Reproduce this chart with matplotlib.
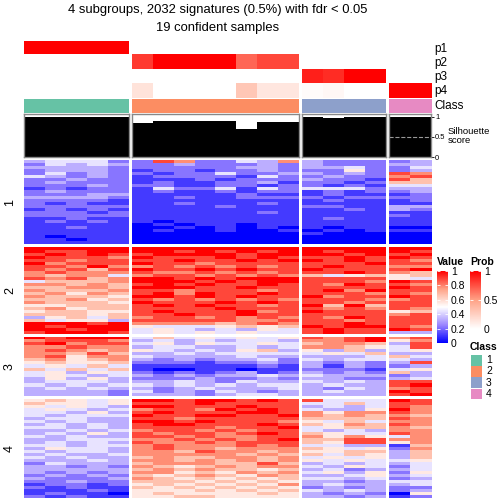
import matplotlib
matplotlib.use('Agg')
import matplotlib.pyplot as plt
import numpy as np
from matplotlib.colors import LinearSegmentedColormap, ListedColormap, Normalize
from matplotlib.cm import ScalarMappable

plt.rcParams['font.family'] = ['Liberation Sans', 'DejaVu Sans']

""" data """

title_lines = ['4 subgroups, 2032 signatures (0.5%) with fdr < 0.05',
               '19 confident samples']
annot_names = ['p1', 'p2', 'p3', 'p4', 'Class']
row_names = ['1', '2', '3', '4']
class_names = ['1', '2', '3', '4']
class_colors = ['#66C2A5', '#FC8D62', '#8DA0CB', '#E78AC3']
n_cols = [5, 8, 4, 2]

p1 = [1, 1, 1, 1, 1, 0, 0, 0, 0, 0, 0, 0, 0, 0, 0, 0, 0, 0, 0]
p2 = [0, 0, 0, 0, 0, 0.82, 1, 1, 1, 1, 0.68, 0.78, 0.78, 0, 0, 0, 0, 0, 0]
p3 = [0, 0, 0, 0, 0, 0, 0, 0, 0, 0, 0, 0, 0, 0.9, 0.86, 1, 1, 0, 0]
p4 = [0, 0, 0, 0, 0, 0.15, 0, 0, 0, 0, 0.3, 0.13, 0.13, 0.02, 0.04, 0, 0, 1, 1]
sil = [1, 1, 1, 1, 1, 0.84, 0.89, 0.89, 0.89, 0.89, 0.70, 0.87, 0.87,
       0.99, 0.97, 0.99, 0.99, 1, 1]
classes = [1] * 5 + [2] * 8 + [3] * 4 + [4] * 2

# heatmap rows, one digit per sample (value = digit / 9)
rows_1 = [
    "34442 28722437 3222 23", "24343 22322232 3222 33", "33332 22222332 3342 24",
    "23332 12212232 2252 23", "24232 21224223 3232 87", "43232 12222142 2322 78",
    "22322 11121222 3221 86", "23222 12112231 2212 66", "22232 22112212 2121 44",
    "12122 14224142 4442 33", "23222 12112122 1212 23", "22233 11111211 1211 12",
    "33332 11211222 2122 22", "22221 11111111 1211 12", "21211 11211121 1111 11",
    "22222 11112111 2211 33", "12121 11111111 1121 32", "22212 11111121 1111 11",
    "22222 11111111 1111 21", "11211 11111111 1211 11", "12121 10111111 1111 11",
    "11111 01011011 1111 11", "11211 00101010 1011 00", "11111 01001001 0101 11",
    "11111 00000000 1000 00", "10111 00000000 0000 00", "11011 00000000 0000 00",
    "11111 00000000 0000 00"]
rows_2 = [
    "99999 99999999 9999 99", "98899 99898989 9899 98", "89898 89999899 9989 89",
    "98887 98889898 8898 98", "88788 88988989 9898 87", "97888 98878888 8889 88",
    "88797 78787878 8988 77", "87868 98898988 9888 89", "78777 87787878 8898 76",
    "76774 78878787 6456 56", "87867 99898999 8888 54", "46667 99989899 8887 98",
    "77676 89898898 8798 87", "66776 99988988 8888 98", "76667 88788878 8979 88",
    "67576 89798898 8887 87", "76665 99898988 9788 98", "66756 87878787 8887 78",
    "76665 98889898 8878 88", "55666 89898878 9696 88", "67566 88889888 8787 87",
    "56655 89888978 9888 56", "66656 88988988 8888 78", "35646 78878787 8798 88",
    "64553 88888778 8878 88", "99989 77776787 8898 88", "98999 54445656 9899 87",
    "99899 45434354 8988 98", "89998 45454544 8988 33"]
rows_3 = [
    "98999 46454545 8789 78", "78887 34343443 7789 57", "89788 45354454 6776 38",
    "77877 34433434 7765 48", "78767 54343563 5363 45", "77686 33434444 4546 33",
    "78577 43333433 3334 64", "67567 32323342 4344 43", "56556 22212232 3232 38",
    "45464 11111121 3132 23", "64646 10011011 2221 45", "45354 21212312 3232 63",
    "45434 32323343 4333 23", "35353 22232232 3322 34", "34443 33432433 4343 88",
    "43434 43434344 3433 89", "34343 32343334 3243 78", "33332 42324323 3433 98",
    "33332 33323443 3333 89"]
rows_4 = [
    "56545 99899898 8444 98", "65545 88898888 4464 88", "54543 99888988 3434 87",
    "45434 78879898 4335 97", "44353 89888998 7577 87", "43444 98899889 7676 76",
    "34433 88788888 6666 87", "43433 99898887 5464 77", "34343 89988898 6576 87",
    "44343 88887889 4566 76", "33434 78878788 4343 77", "34353 87887898 6544 87",
    "43433 88787788 7575 47", "33444 77878789 6688 77", "34343 87787888 6588 57",
    "44344 78777878 4433 16", "35443 78776777 6545 27", "43443 77687767 5566 36",
    "34334 77777676 6465 36", "43433 67667767 4545 36", "33343 77676767 5454 45",
    "24333 67776686 3434 34", "33232 76567677 4354 24", "33333 67676656 3423 34",
    "32323 77565767 4535 25", "23232 65676576 3345 34", "32223 76565656 4434 23",
    "22322 66656565 3323 44", "12212 56565657 3433 34", "21211 65656565 2323 22",
    "11121 55565656 4343 23", "12110 56555565 3232 05", "21211 55665555 3323 12"]

""" layout (pixels) """

W = H = 504
col_px = [(24, 129), (132, 299), (302, 386), (389, 431)]
row_px = [(160, 244), (247, 334), (337, 396), (399, 498)]


def box(x0, y0, x1, y1):
    return [x0 / W, 1 - y1 / H, (x1 - x0) / W, (y1 - y0) / H]


def bare(ax):
    ax.set_xticks([])
    ax.set_yticks([])
    for s in ax.spines.values():
        s.set_visible(False)


value_cmap = LinearSegmentedColormap.from_list(
    'value', [(0, '#0000FF'), (0.25, '#9B86FF'), (0.5, '#FFFFFF'),
              (0.75, '#FFA286'), (1, '#FF0000')])
prob_cmap = LinearSegmentedColormap.from_list(
    'prob', [(0, '#FFFFFF'), (0.5, '#FFA286'), (1, '#FF0000')])
class_cmap = ListedColormap(class_colors)

fig = plt.figure(figsize=(5.04, 5.04), dpi=100)

fig.text(218 / W, 1 - 10 / H, title_lines[0], ha='center', va='center', fontsize=9.4)
fig.text(218 / W, 1 - 28 / H, title_lines[1], ha='center', va='center', fontsize=9.4)

probs = np.array([p1, p2, p3, p4])
cls = np.array([classes])
starts = np.cumsum([0] + n_cols)

for g, (x0, x1) in enumerate(col_px):
    c0, c1 = starts[g], starts[g + 1]

    ax = fig.add_axes(box(x0, 41, x1, 98))
    ax.imshow(probs[:, c0:c1], cmap=prob_cmap, vmin=0, vmax=1,
              aspect='auto', interpolation='nearest')
    bare(ax)

    ax = fig.add_axes(box(x0, 99, x1, 113))
    ax.imshow(cls[:, c0:c1], cmap=class_cmap, vmin=0.5, vmax=4.5,
              aspect='auto', interpolation='nearest')
    bare(ax)

    ax = fig.add_axes(box(x0, 114, x1, 157))
    ax.bar(np.arange(c1 - c0), sil[c0:c1], width=1.0, color='black')
    ax.set_xlim(-0.5, c1 - c0 - 0.5)
    ax.set_ylim(0, 1.067)
    ax.set_xticks([])
    ax.set_yticks([])
    for s in ax.spines.values():
        s.set_color('#888888')
        s.set_linewidth(1.0)
    if g == 3:
        ax.axhline(0.5, color='#999999', linestyle='--', linewidth=0.8)
        ax.yaxis.tick_right()
        ax.set_yticks([0, 0.5, 1])
        ax.set_yticklabels(['0', '0.5', '1'])
        ax.tick_params(axis='y', labelsize=5.5, length=2, width=0.6, pad=1)

for i, name in enumerate(annot_names):
    yc = [49, 63, 77, 91, 106][i]
    fig.text(434 / W, 1 - yc / H, name, ha='left', va='center', fontsize=8.5)
fig.text(448 / W, 1 - 136 / H, 'Silhouette\nscore', ha='left', va='center',
         fontsize=6.8, linespacing=0.95)

all_rows = [rows_1, rows_2, rows_3, rows_4]
for r, (y0, y1) in enumerate(row_px):
    mat = np.array([[int(ch) / 9 for ch in s.replace(' ', '')] for s in all_rows[r]])
    for g, (x0, x1) in enumerate(col_px):
        c0, c1 = starts[g], starts[g + 1]
        ax = fig.add_axes(box(x0, y0, x1, y1))
        ax.imshow(mat[:, c0:c1], cmap=value_cmap, vmin=0, vmax=1,
                  aspect='auto', interpolation='nearest')
        bare(ax)
    fig.text(10 / W, 1 - (y0 + y1) / 2 / H, row_names[r], rotation=90,
             ha='center', va='center', fontsize=9)

""" legends """

fig.text(437 / W, 1 - 262 / H, 'Value', ha='left', va='center',
         fontsize=7.5, fontweight='bold')
cax = fig.add_axes(box(437, 271, 448, 343))
cb = fig.colorbar(ScalarMappable(Normalize(0, 1), value_cmap), cax=cax)
cb.outline.set_visible(False)
cb.set_ticks([0, 0.2, 0.4, 0.6, 0.8, 1])
cb.set_ticklabels(['0', '0.2', '0.4', '0.6', '0.8', '1'])
cax.tick_params(axis='y', direction='in', color='white', length=2.5,
                width=0.6, left=True, right=True, labelsize=7.5, pad=2)

fig.text(470 / W, 1 - 262 / H, 'Prob', ha='left', va='center',
         fontsize=7.5, fontweight='bold')
cax = fig.add_axes(box(470, 271, 481, 329))
cb = fig.colorbar(ScalarMappable(Normalize(0, 1), prob_cmap), cax=cax)
cb.outline.set_visible(False)
cb.set_ticks([0, 0.5, 1])
cb.set_ticklabels(['0', '0.5', '1'])
cax.tick_params(axis='y', direction='in', color='white', length=2.5,
                width=0.6, left=True, right=True, labelsize=7.5, pad=2)

fig.text(470 / W, 1 - 347 / H, 'Class', ha='left', va='center',
         fontsize=7.5, fontweight='bold')
for i, name in enumerate(class_names):
    yt = 355 + 11.2 * i
    ax = fig.add_axes(box(471, yt, 482, yt + 10.5))
    ax.set_facecolor(class_colors[i])
    bare(ax)
    fig.text(486 / W, 1 - (yt + 5.3) / H, name, ha='left', va='center', fontsize=7.5)

fig.savefig('out.png', dpi=100)
